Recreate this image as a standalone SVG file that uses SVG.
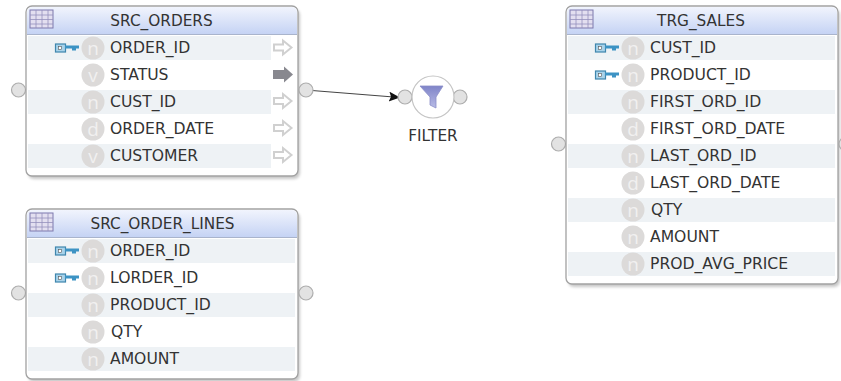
<svg xmlns="http://www.w3.org/2000/svg" xmlns:xlink="http://www.w3.org/1999/xlink" width="841" height="381" viewBox="0 0 841 381">
<style>
text{font-family:"DejaVu Sans",sans-serif;font-size:15.300px;fill:#333}
.col{font-size:15.600px}
.title{text-anchor:middle}
.box{fill:#fff;stroke:#a2a2a2;stroke-width:1.300}
.shadow{fill:#000;opacity:.22;filter:url(#blur)}
.stripe{fill:#eef2f5}
.port{fill:#e2e2e2;stroke:#adadad;stroke-width:1.200}
.type{fill:#dcdad9}
.t{font-family:"Open Sans",sans-serif;font-size:19px;fill:#f1f0f0;text-anchor:middle}
.conn{fill:none;stroke:#444;stroke-width:1}
</style>
<defs>
<filter id="blur" x="-5%" y="-5%" width="110%" height="110%"><feGaussianBlur stdDeviation="1.500"/></filter>
<linearGradient id="hdr" x1="0" y1="0" x2="0" y2="1"><stop offset="0" stop-color="#f1f4fd"/><stop offset="1" stop-color="#c5d3f4"/></linearGradient>
<linearGradient id="fun" x1="0" y1="0" x2="0" y2="1"><stop offset="0" stop-color="#7f84c8"/><stop offset="1" stop-color="#b9bce6"/></linearGradient>
<g id="tbl"><rect x="0" y="0" width="23" height="18" fill="#e3dff0" stroke="#7d79ad"/><path d="M0 5H23M0 9.500H23M0 14H23M6 0V18M12 0V18M18 0V18" stroke="#9591bd" stroke-width=".8" fill="none"/></g>
<g id="key"><rect x="0.500" y="-4" width="10" height="8" fill="#a9d3ea" stroke="#3f86ad" stroke-width="1.200"/><rect x="3.500" y="-1.500" width="3" height="3" fill="#fff" stroke="#555" stroke-width=".6"/><path d="M10 -2.500H24V.5H21V2.500H17V.5H10Z" fill="#3d93c4"/></g>
<path id="ao" d="M1 -3H10V-7L18.500 0L10 7V3H1Z" fill="#fff" stroke="#d0d0d0" stroke-width="2"/>
<path id="af" d="M0 -4.500H11V-8L20 0L11 8V4.500H0Z" fill="#88888f"/>
<marker id="arr" markerWidth="14" markerHeight="12" refX="11" refY="5" orient="auto" markerUnits="userSpaceOnUse"><path d="M0 0L11 5L0 10L2 5Z" fill="#111"/></marker>
</defs>
<rect width="841" height="381" fill="#fff"/>

<g id="connectors"><path class="conn" marker-end="url(#arr)" d="M312 90.500L400 97.500"/></g>

<g id="SRC_ORDERS">
<rect class="shadow" x="28" y="9" width="272" height="170" rx="6"/>
<circle class="port" cx="18.500" cy="90" r="7"/><circle class="port" cx="306" cy="90" r="7"/>
<rect class="box" x="26" y="6" width="272" height="170" rx="6"/>
<path d="M27 34V12a5 5 0 0 1 5-5H292a5 5 0 0 1 5 5V34Z" fill="url(#hdr)"/><path d="M27 34.500H297" stroke="#a9b4cc"/>
<use xlink:href="#tbl" x="30" y="10"/>
<text class="title" x="161.500" y="26">SRC_ORDERS</text>
<rect class="stripe" x="28" y="36" width="243" height="24"/><rect class="stripe" x="28" y="90" width="243" height="24"/><rect class="stripe" x="28" y="144" width="243" height="24"/>
<use xlink:href="#key" x="55" y="48"/>
<circle class="type" cx="93" cy="48" r="11.500"/><text class="t" x="93" y="55">n</text>
<circle class="type" cx="93" cy="75" r="11.500"/><text class="t" x="93" y="82">v</text>
<circle class="type" cx="93" cy="102" r="11.500"/><text class="t" x="93" y="109">n</text>
<circle class="type" cx="93" cy="129" r="11.500"/><text class="t" x="93" y="136">d</text>
<circle class="type" cx="93" cy="156" r="11.500"/><text class="t" x="93" y="163">v</text>
<text class="col" x="110" y="53">ORDER_ID</text><text class="col" x="110" y="80">STATUS</text><text class="col" x="110" y="107">CUST_ID</text><text class="col" x="110" y="134">ORDER_DATE</text><text class="col" x="110" y="161">CUSTOMER</text>
<use xlink:href="#ao" x="273" y="47.500"/><use xlink:href="#af" x="273" y="74.500"/><use xlink:href="#ao" x="273" y="101"/><use xlink:href="#ao" x="273" y="128"/><use xlink:href="#ao" x="273" y="155"/>
</g>

<g id="SRC_ORDER_LINES">
<rect class="shadow" x="28" y="212" width="272" height="170" rx="6"/>
<circle class="port" cx="18.500" cy="293" r="7"/><circle class="port" cx="306" cy="293" r="7"/>
<rect class="box" x="26" y="209" width="272" height="170" rx="6"/>
<path d="M27 237V215a5 5 0 0 1 5-5H292a5 5 0 0 1 5 5V237Z" fill="url(#hdr)"/><path d="M27 237.500H297" stroke="#a9b4cc"/>
<use xlink:href="#tbl" x="30" y="213"/>
<text class="title" x="162.500" y="229">SRC_ORDER_LINES</text>
<rect class="stripe" x="28" y="239" width="267" height="24"/><rect class="stripe" x="28" y="293" width="267" height="24"/><rect class="stripe" x="28" y="347" width="267" height="24"/>
<use xlink:href="#key" x="55" y="251"/><use xlink:href="#key" x="55" y="278"/>
<circle class="type" cx="93" cy="251" r="11.500"/><text class="t" x="93" y="258">n</text>
<circle class="type" cx="93" cy="278" r="11.500"/><text class="t" x="93" y="285">n</text>
<circle class="type" cx="93" cy="305" r="11.500"/><text class="t" x="93" y="312">n</text>
<circle class="type" cx="93" cy="332" r="11.500"/><text class="t" x="93" y="339">n</text>
<circle class="type" cx="93" cy="359" r="11.500"/><text class="t" x="93" y="366">n</text>
<text class="col" x="110" y="256">ORDER_ID</text><text class="col" x="110" y="283">LORDER_ID</text><text class="col" x="110" y="310">PRODUCT_ID</text><text class="col" x="111" y="337">QTY</text><text class="col" x="110" y="364">AMOUNT</text>
</g>

<g id="FILTER">
<circle class="port" cx="405" cy="97" r="7"/><circle class="port" cx="460" cy="97" r="7"/>
<circle cx="433" cy="97" r="21" fill="#fff" stroke="#c4c4c4" stroke-width="1.200"/>
<path d="M420 86H443L436 97V108L430 105V97Z" fill="url(#fun)" stroke="#8a8ec8" stroke-width=".8"/>
<text class="title" x="433" y="141">FILTER</text>
</g>

<g id="TRG_SALES">
<rect class="shadow" x="568" y="9" width="272" height="278" rx="6"/>
<circle class="port" cx="558.500" cy="144" r="7"/><circle class="port" cx="846" cy="144" r="7"/>
<rect class="box" x="566" y="6" width="272" height="278" rx="6"/>
<path d="M567 34V12a5 5 0 0 1 5-5H832a5 5 0 0 1 5 5V34Z" fill="url(#hdr)"/><path d="M567 34.500H837" stroke="#a9b4cc"/>
<use xlink:href="#tbl" x="570" y="10"/>
<text class="title" x="701" y="26">TRG_SALES</text>
<rect class="stripe" x="568" y="36" width="267" height="24"/><rect class="stripe" x="568" y="90" width="267" height="24"/><rect class="stripe" x="568" y="144" width="267" height="24"/><rect class="stripe" x="568" y="198" width="267" height="24"/><rect class="stripe" x="568" y="252" width="267" height="24"/>
<use xlink:href="#key" x="595" y="48"/><use xlink:href="#key" x="595" y="75"/>
<circle class="type" cx="633" cy="48" r="11.500"/><text class="t" x="633" y="55">n</text>
<circle class="type" cx="633" cy="75" r="11.500"/><text class="t" x="633" y="82">n</text>
<circle class="type" cx="633" cy="102" r="11.500"/><text class="t" x="633" y="109">n</text>
<circle class="type" cx="633" cy="129" r="11.500"/><text class="t" x="633" y="136">d</text>
<circle class="type" cx="633" cy="156" r="11.500"/><text class="t" x="633" y="163">n</text>
<circle class="type" cx="633" cy="183" r="11.500"/><text class="t" x="633" y="190">d</text>
<circle class="type" cx="633" cy="210" r="11.500"/><text class="t" x="633" y="217">n</text>
<circle class="type" cx="633" cy="237" r="11.500"/><text class="t" x="633" y="244">n</text>
<circle class="type" cx="633" cy="264" r="11.500"/><text class="t" x="633" y="271">n</text>
<text class="col" x="650" y="53">CUST_ID</text><text class="col" x="650" y="80">PRODUCT_ID</text><text class="col" x="650" y="107">FIRST_ORD_ID</text><text class="col" x="650" y="134">FIRST_ORD_DATE</text><text class="col" x="650" y="161">LAST_ORD_ID</text><text class="col" x="650" y="188">LAST_ORD_DATE</text><text class="col" x="651" y="215">QTY</text><text class="col" x="650" y="242">AMOUNT</text><text class="col" x="650" y="269">PROD_AVG_PRICE</text>
</g>
</svg>
